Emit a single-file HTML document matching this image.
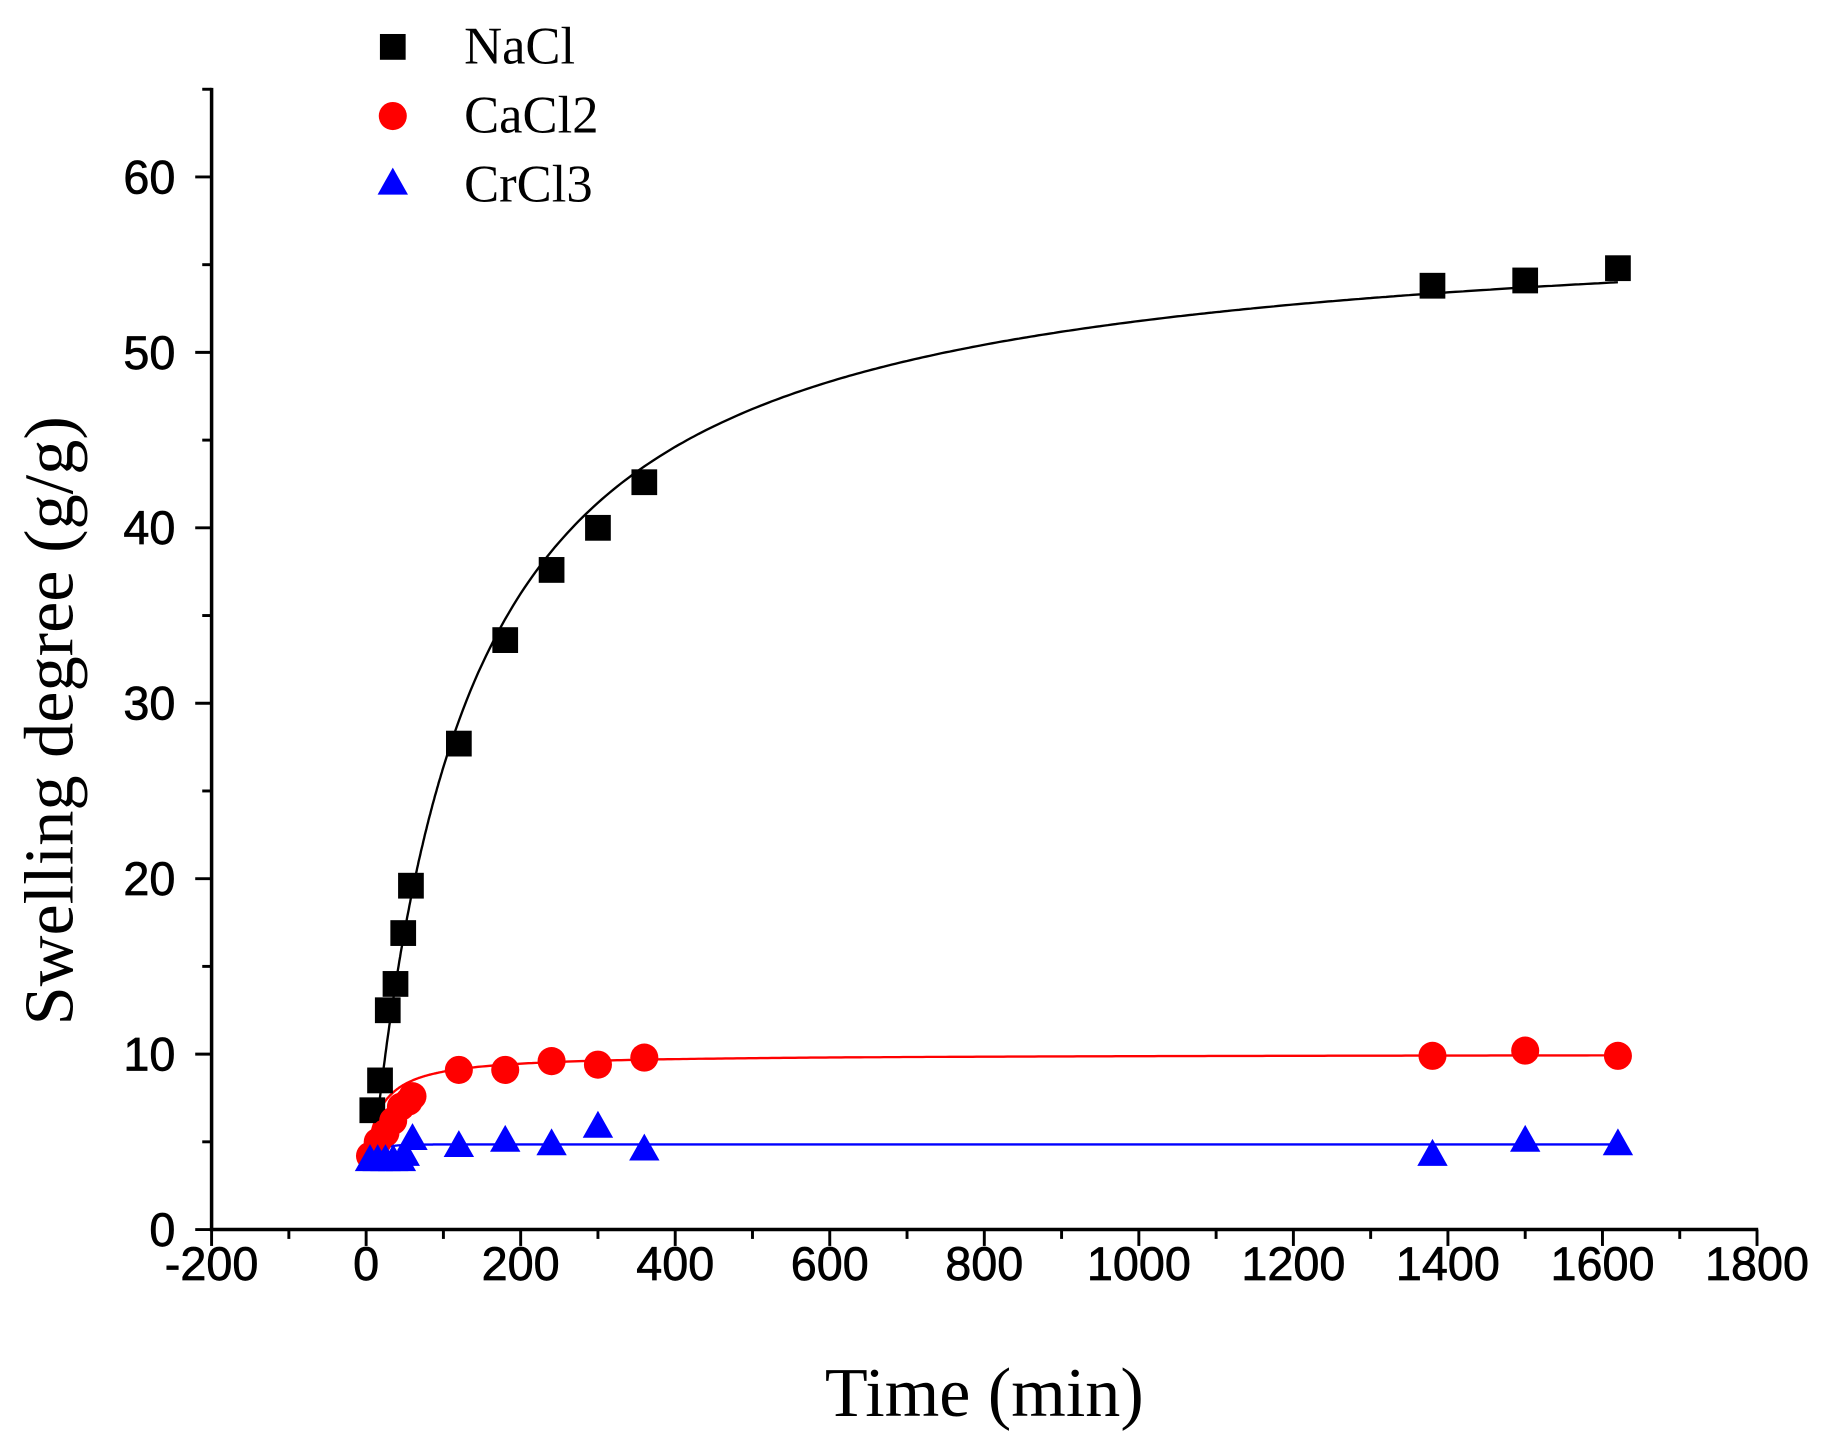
<!DOCTYPE html>
<html><head><meta charset="utf-8"><style>
html,body{margin:0;padding:0;background:#fff;}
svg{display:block;}
</style></head><body>
<svg id="c" width="1833" height="1437" viewBox="0 0 1568 1226" preserveAspectRatio="none" xmlns="http://www.w3.org/2000/svg">
<g id="g" font-family="Liberation Sans, sans-serif"></g>
</svg>
<script>
const NS="http://www.w3.org/2000/svg",g=document.getElementById('g');
function el(t,a,txt){const e=document.createElementNS(NS,t);for(const k in a)e.setAttribute(k,a[k]);if(txt!=null)e.textContent=txt;g.appendChild(e);return e;}
const X=t=>313.2+t*0.661, Y=v=>1049-v*14.967;
el('line',{x1:181,y1:75,x2:181,y2:1050.5,stroke:'#000','stroke-width':3});
el('line',{x1:179.5,y1:1049,x2:1504,y2:1049,stroke:'#000','stroke-width':3});
for(let t=-200;t<=1800;t+=100){const x=X(t);const maj=t%200==0;
 el('line',{x1:x,y1:1049,x2:x,y2:maj?1063:1057,stroke:'#000','stroke-width':2.5});
 if(maj)el('text',{x:x,y:1092,'font-size':40,'text-anchor':'middle',stroke:'#000','stroke-width':0.6},String(t));}
for(let v=0;v<=65;v+=5){const y=Y(v);const maj=v%10==0;
 el('line',{x1:181,y1:y,x2:maj?167:173,y2:y,stroke:'#000','stroke-width':2.5});
 if(maj)el('text',{x:150,y:y+14,'font-size':40,'text-anchor':'end',stroke:'#000','stroke-width':0.6},String(v));}
el('text',{x:842,y:1208,'font-size':60,'text-anchor':'middle','font-family':'Liberation Serif, serif'},'Time (min)');
el('text',{x:0,y:0,'font-size':60,'text-anchor':'middle','font-family':'Liberation Serif, serif',transform:'translate(62,615) rotate(-90)'},'Swelling degree (g/g)');
function curve(f,t0,col){let d='';for(let t=t0;t<=1620;t+=(t<100?1:5)){d+=(d?'L':'M')+X(t).toFixed(1)+','+Y(f(t)).toFixed(1);}el('path',{d:d,fill:'none',stroke:col,'stroke-width':2});}
curve(t=>58*t/(120+t),10,'#000');
curve(t=>4+6*t/(20+t),0,'#f00');
curve(t=>4+0.85*(1-Math.exp(-t/15)),0,'#00f');
function sq(x,y){el('rect',{x:x-11,y:y-11,width:22,height:22,fill:'#000'});}
function ci(x,y){el('circle',{cx:x,cy:y,r:12,fill:'#f00'});}
function tr(x,y){el('polygon',{points:`${x-13},${y+10} ${x+13},${y+10} ${x},${y-13}`,fill:'#00f'});}
const na=[[8,6.8],[18,8.5],[28,12.5],[38,14],[48,16.9],[58,19.6],[120,27.7],[180,33.6],[240,37.6],[300,40],[360,42.6],[1380,53.8],[1500,54.1],[1620,54.8]];
const ca=[[5,4.2],[15,5],[25,5.5],[35,6.2],[45,7],[55,7.3],[60,7.6],[120,9.1],[180,9.1],[240,9.6],[300,9.4],[360,9.8],[1380,9.9],[1500,10.2],[1620,9.9]];
const cr=[[5,4],[15,4],[25,4],[35,4],[45,4],[50,4.3],[60,5.2],[120,4.8],[180,5.1],[240,4.9],[300,5.9],[360,4.6],[1380,4.3],[1500,5.1],[1620,4.9]];
na.forEach(p=>sq(X(p[0]),Y(p[1])));
ca.forEach(p=>ci(X(p[0]),Y(p[1])));
cr.forEach(p=>tr(X(p[0]),Y(p[1])));
sq(336,40);ci(336,99);tr(336,156);
const lf={'font-size':45,'font-family':'Liberation Serif, serif'};
el('text',Object.assign({x:397,y:54},lf),'NaCl');
el('text',Object.assign({x:397,y:113},lf),'CaCl2');
el('text',Object.assign({x:397,y:172},lf),'CrCl3');
</script>
</body></html>
